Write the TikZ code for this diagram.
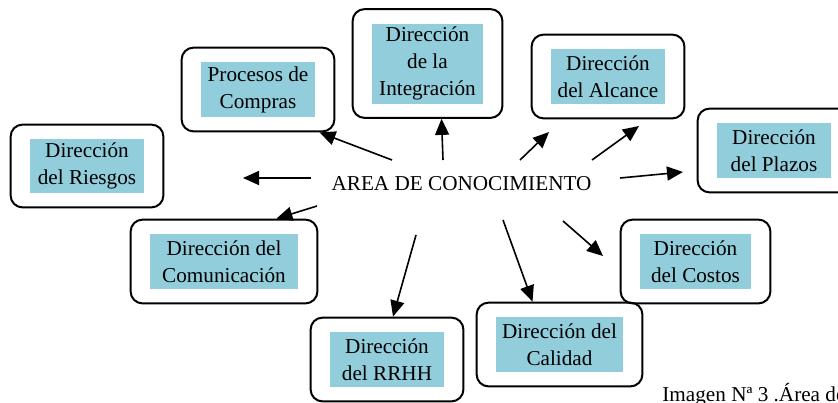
\documentclass[tikz,border=0pt]{standalone}
\usepackage{fontspec}
\setmainfont{Liberation Serif}
\usetikzlibrary{arrows.meta,positioning,fit,calc}
\definecolor{aqua}{RGB}{146,205,220}

\begin{document}
\begin{tikzpicture}[x=1pt,y=1pt,
  font=\fontsize{10.6pt}{13.5pt}\selectfont,
  tema/.style={fill=aqua, inner sep=0pt, align=center},
  marco/.style={draw, line width=1pt, rounded corners=6pt, inner xsep=9.5pt, inner ysep=7pt},
  flecha/.style={-{Triangle[length=8pt,width=7pt]}, line width=0.8pt}]

\useasboundingbox (0,0) rectangle (419,-201);

% Central label
\node (area) at (230.75,-91.75) {AREA DE CONOCIMIENTO};

% Knowledge areas: blue text box inside a rounded frame
\foreach \n/\x/\y/\w/\h/\t in {
  compras/129/-44.75/57/27.5/{Procesos de\\Compras},
  riesgos/43.5/-83/57/27/{Dirección\\del Riesgos},
  integ/213.75/-31.75/55.5/40/{Dirección\\de la\\Integración},
  alcance/304/-38.25/57/27.5/{Dirección\\del Alcance},
  plazos/387/-75.25/57/27.5/{Dirección\\del Plazos},
  comunic/112/-130.75/74/27.5/{Dirección del\\Comunicación},
  rrhh/193.5/-179.75/57/27.5/{Dirección\\del RRHH},
  calidad/279.75/-172.25/63.5/27.5/{Dirección del\\Calidad},
  costos/347.75/-130.75/55.5/27.5/{Dirección\\del Costos}} {
  \node[tema, minimum width=\w pt, minimum height=\h pt] (\n) at (\x,\y) {\t};
  \node[marco, fit=(\n)] (\n-box) {};
}

% Arrow start points around the label
\coordinate (s1) at (196,-80);
\coordinate (s2) at (155.5,-89);
\coordinate (s3) at (221.5,-80);
\coordinate (s4) at (260,-80);
\coordinate (s5) at (296,-80);
\coordinate (s6) at (310,-89);
\coordinate (s7) at (158.5,-103);
\coordinate (s8) at (208,-117.5);
\coordinate (s9) at (251.5,-110);
\coordinate (s10) at (281.5,-110.5);

% Free arrow ends
\coordinate (e2) at (121.5,-89);
\coordinate (e4) at (274.5,-66);
\coordinate (e5) at (319.5,-63);
\coordinate (e6) at (341.5,-86);
\coordinate (e10) at (301.5,-128);

% Arrows
\draw[flecha] (s1) -- ([xshift=-8pt]compras-box.south east);
\draw[flecha] (s2) -- (e2);
\draw[flecha] (s3) -- ([xshift=7pt]integ-box.south);
\draw[flecha] (s4) -- (e4);
\draw[flecha] (s5) -- (e5);
\draw[flecha] (s6) -- (e6);
\draw[flecha] (s7) -- ([xshift=-21pt]comunic-box.north east);
\draw[flecha] (s8) -- ([xshift=3pt]rrhh-box.north);
\draw[flecha] (s9) -- ([xshift=-13.5pt]calidad-box.north);
\draw[flecha] (s10) -- (e10);

% Caption
\node[anchor=base west, inner sep=0pt] (pie) at (331,-200.5) {Imagen Nª 3 .Área de};

\end{tikzpicture}
\end{document}
